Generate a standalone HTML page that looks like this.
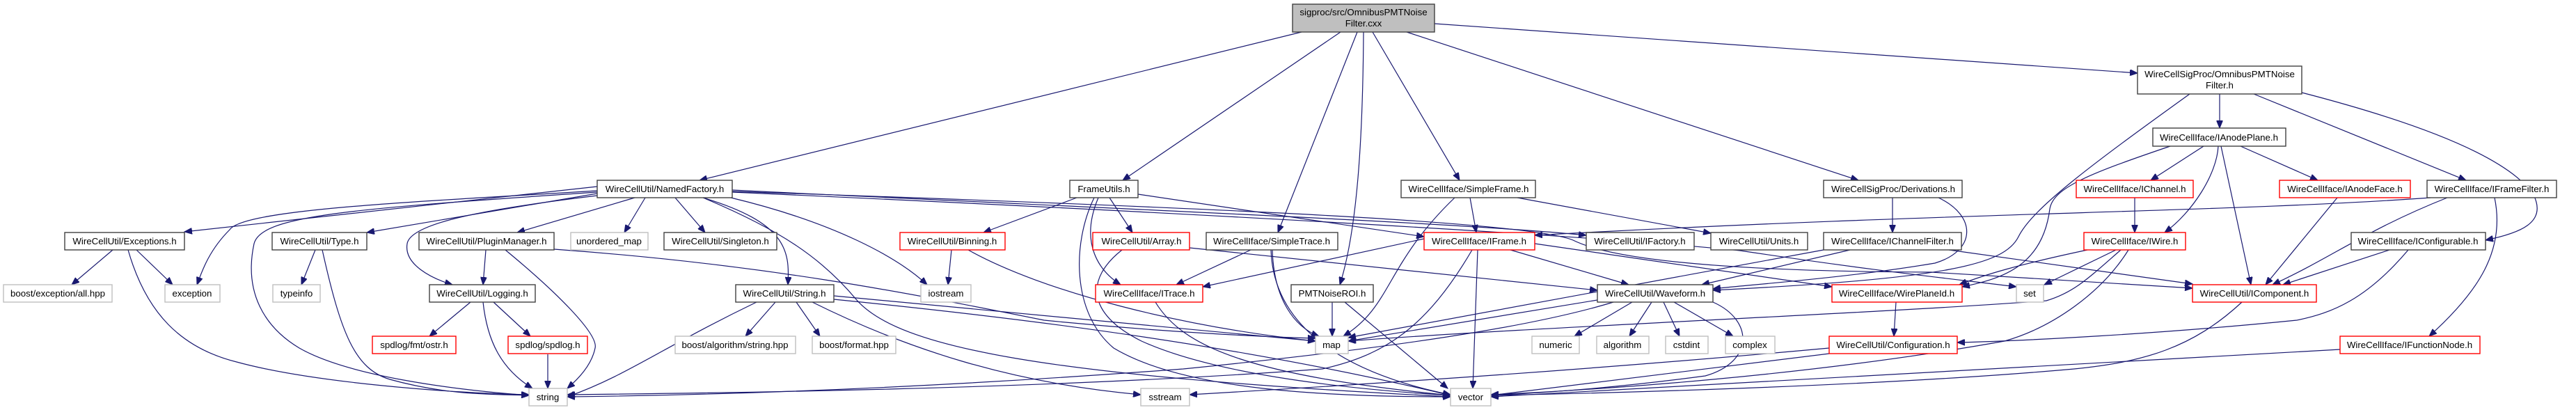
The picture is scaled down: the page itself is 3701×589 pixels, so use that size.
<!DOCTYPE html>
<html><head><meta charset="utf-8"><style>
html,body{margin:0;padding:0;background:#fff;}
svg{display:block;}
text{font-family:"Liberation Sans",sans-serif;font-size:13.3px;fill:#000;text-anchor:middle;}
.n rect{fill:#fff;stroke:#404040;stroke-width:1.4;}
.r rect{fill:#fff;stroke:#ff0000;stroke-width:1.4;}
.g rect{fill:#fff;stroke:#bfbfbf;stroke-width:1.4;}
.e path{fill:none;stroke:#191970;stroke-width:1.2;marker-end:url(#a);}
</style></head><body>
<svg width="3701" height="589" viewBox="0 0 3701 589" xmlns="http://www.w3.org/2000/svg">
<defs><marker id="a" markerUnits="userSpaceOnUse" markerWidth="12" markerHeight="9" refX="11" refY="4.5" orient="auto"><path d="M0,0 L11,4.5 L0,9 z" fill="#191970" stroke="#191970"/></marker></defs>
<g class="e">
<!-- root -->
<path d="M1870,46 L1005,259"/>
<path d="M1926,46 L1613,259"/>
<path d="M1950,46 L1836,334"/>
<path d="M1959,46 C1958,200 1950,330 1925,409"/>
<path d="M1972,46 L2097,259"/>
<path d="M2021,46 L2670,259"/>
<path d="M2061,34 L3071,105"/>
<!-- NamedFactory -->
<path d="M858,268 L265,333"/>
<path d="M858,274 C600,290 350,300 330,330 C300,360 290,390 283,409"/>
<path d="M858,276 C500,300 375,310 365,350 C350,420 380,470 430,500 C500,540 650,560 760,568"/>
<path d="M858,278 L527,334"/>
<path d="M858,281 C700,300 590,320 585,350 C580,380 620,400 650,409"/>
<path d="M912,284 L743,334"/>
<path d="M927,284 L897,334"/>
<path d="M970,284 L1013,334"/>
<path d="M1010,284 C1130,320 1135,360 1132,409"/>
<path d="M1050,284 C1200,320 1290,370 1332,409"/>
<path d="M1010,284 C1120,330 1180,370 1230,430 C1290,500 1500,540 2084,570"/>
<path d="M1052,273 C1600,300 2100,320 2279,338"/>
<path d="M1052,275 C1800,300 2200,320 2260,345 C2320,375 2500,390 2775,391 L3150,414"/>
<path d="M1052,276 C1800,310 2300,340 2500,360 C2700,390 2800,400 2897,412"/>
<!-- Exceptions, Type, PM, Logging -->
<path d="M162,359 L103,409"/>
<path d="M196,359 L248,409"/>
<path d="M184,359 C210,450 260,500 340,520 C450,550 650,565 760,567"/>
<path d="M453,359 L433,409"/>
<path d="M463,359 C490,480 510,530 560,545 C650,570 720,566 760,568"/>
<path d="M698,359 L694,409"/>
<path d="M726,359 C800,420 860,480 855,500 C850,525 830,545 815,558"/>
<path d="M796,358 C1100,380 1300,420 1500,460 C1700,480 1850,485 1890,486"/>
<path d="M676,434 L617,483"/>
<path d="M709,434 L762,483"/>
<path d="M694,434 C700,490 720,530 765,558"/>
<path d="M787,509 L787,558"/>
<!-- String.h -->
<path d="M1114,434 L1071,483"/>
<path d="M1144,434 L1178,483"/>
<path d="M1087,434 C950,500 900,540 815,570"/>
<path d="M1167,434 C1300,500 1450,550 1639,567"/>
<path d="M1198,430 C1500,460 1800,500 2084,568"/>
<path d="M1198,425 L1890,490"/>
<!-- Binning, FrameUtils, Array, SimpleTrace, ITrace, ROI -->
<path d="M1367,359 L1362,409"/>
<path d="M1391,359 C1500,420 1700,470 1890,490"/>
<path d="M1547,284 L1413,334"/>
<path d="M1594,284 L1627,334"/>
<path d="M1578,284 C1550,350 1580,390 1610,409"/>
<path d="M1572,284 C1540,350 1540,450 1600,500 C1700,560 1900,570 2084,570"/>
<path d="M1635,279 L2046,340"/>
<path d="M1612,359 C1560,400 1560,450 1640,490 C1750,540 1950,560 2084,568"/>
<path d="M1709,356 L2295,417"/>
<path d="M1797,359 L1690,409"/>
<path d="M1828,359 C1830,430 1860,470 1895,483"/>
<path d="M1826,359 C1830,480 1950,540 2084,567"/>
<path d="M1660,434 C1700,500 1800,540 2084,568"/>
<path d="M1914,434 L1914,483"/>
<path d="M1932,434 L2080,558"/>
<!-- SimpleFrame, IFrame -->
<path d="M2112,284 L2121,334"/>
<path d="M2090,284 C1990,380 2000,440 1930,483"/>
<path d="M2180,284 L2458,335"/>
<path d="M2046,343 L1728,412"/>
<path d="M2170,359 L2340,409"/>
<path d="M2205,350 L2632,412"/>
<path d="M2115,359 C2050,470 1990,510 1900,530 C1500,560 1000,565 815,567"/>
<path d="M2123,359 L2116,558"/>
<!-- Derivations, IChannelFilter -->
<path d="M2719,284 L2719,334"/>
<path d="M2785,284 C2840,310 2840,360 2780,378 C2650,400 2500,410 2461,415"/>
<path d="M2658,359 L2445,409"/>
<path d="M2620,359 L1937,485"/>
<path d="M2800,359 L3150,408"/>
<!-- Waveform -->
<path d="M2295,431 L1937,490"/>
<path d="M2345,434 L2262,483"/>
<path d="M2373,434 L2341,483"/>
<path d="M2390,434 L2413,483"/>
<path d="M2405,434 L2490,483"/>
<path d="M2461,434 C2520,460 2520,520 2450,540 C2300,560 2200,565 2142,568"/>
<path d="M2318,434 C2200,470 2000,500 1700,530 C1300,560 1000,568 815,570"/>
<path d="M2724,434 L2721,483"/>
<path d="M2628,508 L2142,568"/>
<path d="M2628,500 C2300,530 2000,550 1709,567"/>
<!-- right side -->
<path d="M3189,135 L3189,184"/>
<path d="M3238,135 L3543,259"/>
<path d="M3307,133 C3450,170 3600,220 3640,280 C3660,320 3620,335 3571,345"/>
<path d="M3146,135 C3000,240 2920,300 2900,340 C2880,380 2800,400 2461,417"/>
<path d="M3166,210 L3090,259"/>
<path d="M3219,210 L3330,259"/>
<path d="M3187,210 C3185,250 3150,305 3110,334"/>
<path d="M3191,210 L3234,409"/>
<path d="M3118,210 C3000,250 2950,270 2945,300 C2935,380 2880,400 2819,412"/>
<path d="M3067,284 L3067,334"/>
<path d="M3358,284 L3255,409"/>
<path d="M3516,284 C3400,330 3350,370 3265,409"/>
<path d="M3492,284 C3200,305 2800,305 2205,338"/>
<path d="M3584,284 C3600,360 3560,420 3490,483"/>
<path d="M3433,359 L3280,409"/>
<path d="M3460,359 C3400,430 3350,450 3300,460 C3100,480 2900,490 2812,492"/>
<path d="M3040,359 L2937,409"/>
<path d="M2999,359 C2900,380 2850,395 2815,409"/>
<path d="M3047,359 C3000,400 2980,420 2940,432 C2700,450 2200,470 1937,490"/>
<path d="M3058,359 C3020,420 2950,470 2880,490 C2600,540 2300,560 2142,567"/>
<path d="M3221,434 C3150,500 3080,520 2980,530 C2700,555 2300,565 2142,568"/>
<path d="M3362,502 L2142,570"/>
</g>

<!-- root -->
<g><rect x="1857" y="6" width="204" height="40" fill="#bfbfbf" stroke="#404040" stroke-width="1.4"/>
<text x="1959" y="22">sigproc/src/OmnibusPMTNoise</text><text x="1959" y="38">Filter.cxx</text></g>
<g class="n"><rect x="3071" y="95" width="236" height="40"/><text x="3189" y="111">WireCellSigProc/OmnibusPMTNoise</text><text x="3189" y="127">Filter.h</text></g>
<g class="n"><rect x="3093" y="184" width="191" height="26"/><text x="3188" y="202">WireCellIface/IAnodePlane.h</text></g>

<!-- row1 -->
<g class="n"><rect x="858" y="259" width="194" height="25"/><text x="955" y="276">WireCellUtil/NamedFactory.h</text></g>
<g class="n"><rect x="1537" y="259" width="98" height="25"/><text x="1586" y="276">FrameUtils.h</text></g>
<g class="n"><rect x="2013" y="259" width="193" height="25"/><text x="2110" y="276">WireCellIface/SimpleFrame.h</text></g>
<g class="n"><rect x="2620" y="259" width="199" height="25"/><text x="2720" y="276">WireCellSigProc/Derivations.h</text></g>
<g class="r"><rect x="2983" y="259" width="168" height="25"/><text x="3067" y="276">WireCellIface/IChannel.h</text></g>
<g class="r"><rect x="3275" y="259" width="188" height="25"/><text x="3369" y="276">WireCellIface/IAnodeFace.h</text></g>
<g class="n"><rect x="3487" y="259" width="186" height="25"/><text x="3580" y="276">WireCellIface/IFrameFilter.h</text></g>

<!-- row2 -->
<g class="n"><rect x="93" y="334" width="172" height="25"/><text x="179" y="351">WireCellUtil/Exceptions.h</text></g>
<g class="n"><rect x="391" y="334" width="136" height="25"/><text x="459" y="351">WireCellUtil/Type.h</text></g>
<g class="n"><rect x="602" y="334" width="194" height="25"/><text x="699" y="351">WireCellUtil/PluginManager.h</text></g>
<g class="g"><rect x="820" y="334" width="111" height="25"/><text x="875" y="351">unordered_map</text></g>
<g class="n"><rect x="954" y="334" width="162" height="25"/><text x="1035" y="351">WireCellUtil/Singleton.h</text></g>
<g class="r"><rect x="1293" y="334" width="151" height="25"/><text x="1368" y="351">WireCellUtil/Binning.h</text></g>
<g class="r"><rect x="1570" y="334" width="139" height="25"/><text x="1640" y="351">WireCellUtil/Array.h</text></g>
<g class="n"><rect x="1733" y="334" width="189" height="25"/><text x="1827" y="351">WireCellIface/SimpleTrace.h</text></g>
<g class="r"><rect x="2046" y="334" width="159" height="25"/><text x="2125" y="351">WireCellIface/IFrame.h</text></g>
<g class="n"><rect x="2279" y="334" width="155" height="25"/><text x="2356" y="351">WireCellUtil/IFactory.h</text></g>
<g class="n"><rect x="2458" y="334" width="139" height="25"/><text x="2527" y="351">WireCellUtil/Units.h</text></g>
<g class="n"><rect x="2620" y="334" width="198" height="25"/><text x="2719" y="351">WireCellIface/IChannelFilter.h</text></g>
<g class="r"><rect x="2994" y="334" width="146" height="25"/><text x="3067" y="351">WireCellIface/IWire.h</text></g>
<g class="n"><rect x="3378" y="334" width="193" height="25"/><text x="3474" y="351">WireCellIface/IConfigurable.h</text></g>

<!-- row3 -->
<g class="g"><rect x="5" y="409" width="156" height="25"/><text x="83" y="426">boost/exception/all.hpp</text></g>
<g class="g"><rect x="237" y="409" width="79" height="25"/><text x="276" y="426">exception</text></g>
<g class="g"><rect x="392" y="409" width="68" height="25"/><text x="426" y="426">typeinfo</text></g>
<g class="n"><rect x="617" y="409" width="152" height="25"/><text x="693" y="426">WireCellUtil/Logging.h</text></g>
<g class="n"><rect x="1057" y="409" width="141" height="25"/><text x="1127" y="426">WireCellUtil/String.h</text></g>
<g class="g"><rect x="1323" y="409" width="72" height="25"/><text x="1359" y="426">iostream</text></g>
<g class="r"><rect x="1574" y="409" width="154" height="25"/><text x="1651" y="426">WireCellIface/ITrace.h</text></g>
<g class="n"><rect x="1855" y="409" width="118" height="25"/><text x="1914" y="426">PMTNoiseROI.h</text></g>
<g class="n"><rect x="2295" y="409" width="166" height="25"/><text x="2378" y="426">WireCellUtil/Waveform.h</text></g>
<g class="r"><rect x="2632" y="409" width="187" height="25"/><text x="2725" y="426">WireCellIface/WirePlaneId.h</text></g>
<g class="g"><rect x="2897" y="409" width="39" height="25"/><text x="2916" y="426">set</text></g>
<g class="r"><rect x="3150" y="409" width="178" height="25"/><text x="3239" y="426">WireCellUtil/IComponent.h</text></g>

<!-- row4 -->
<g class="r"><rect x="535" y="483" width="120" height="25"/><text x="595" y="500">spdlog/fmt/ostr.h</text></g>
<g class="r"><rect x="730" y="483" width="114" height="25"/><text x="787" y="500">spdlog/spdlog.h</text></g>
<g class="g"><rect x="970" y="483" width="173" height="25"/><text x="1056" y="500">boost/algorithm/string.hpp</text></g>
<g class="g"><rect x="1167" y="483" width="120" height="25"/><text x="1227" y="500">boost/format.hpp</text></g>
<g class="g"><rect x="1890" y="483" width="47" height="25"/><text x="1913" y="500">map</text></g>
<g class="g"><rect x="2201" y="483" width="68" height="25"/><text x="2235" y="500">numeric</text></g>
<g class="g"><rect x="2294" y="483" width="75" height="25"/><text x="2331" y="500">algorithm</text></g>
<g class="g"><rect x="2393" y="483" width="61" height="25"/><text x="2423" y="500">cstdint</text></g>
<g class="g"><rect x="2479" y="483" width="71" height="25"/><text x="2514" y="500">complex</text></g>
<g class="r"><rect x="2628" y="483" width="184" height="25"/><text x="2720" y="500">WireCellUtil/Configuration.h</text></g>
<g class="r"><rect x="3362" y="483" width="201" height="25"/><text x="3462" y="500">WireCellIface/IFunctionNode.h</text></g>

<!-- row5 -->
<g class="g"><rect x="760" y="558" width="55" height="25"/><text x="787" y="575">string</text></g>
<g class="g"><rect x="1639" y="558" width="70" height="25"/><text x="1674" y="575">sstream</text></g>
<g class="g"><rect x="2084" y="558" width="58" height="25"/><text x="2113" y="575">vector</text></g>
</svg>
</body></html>
